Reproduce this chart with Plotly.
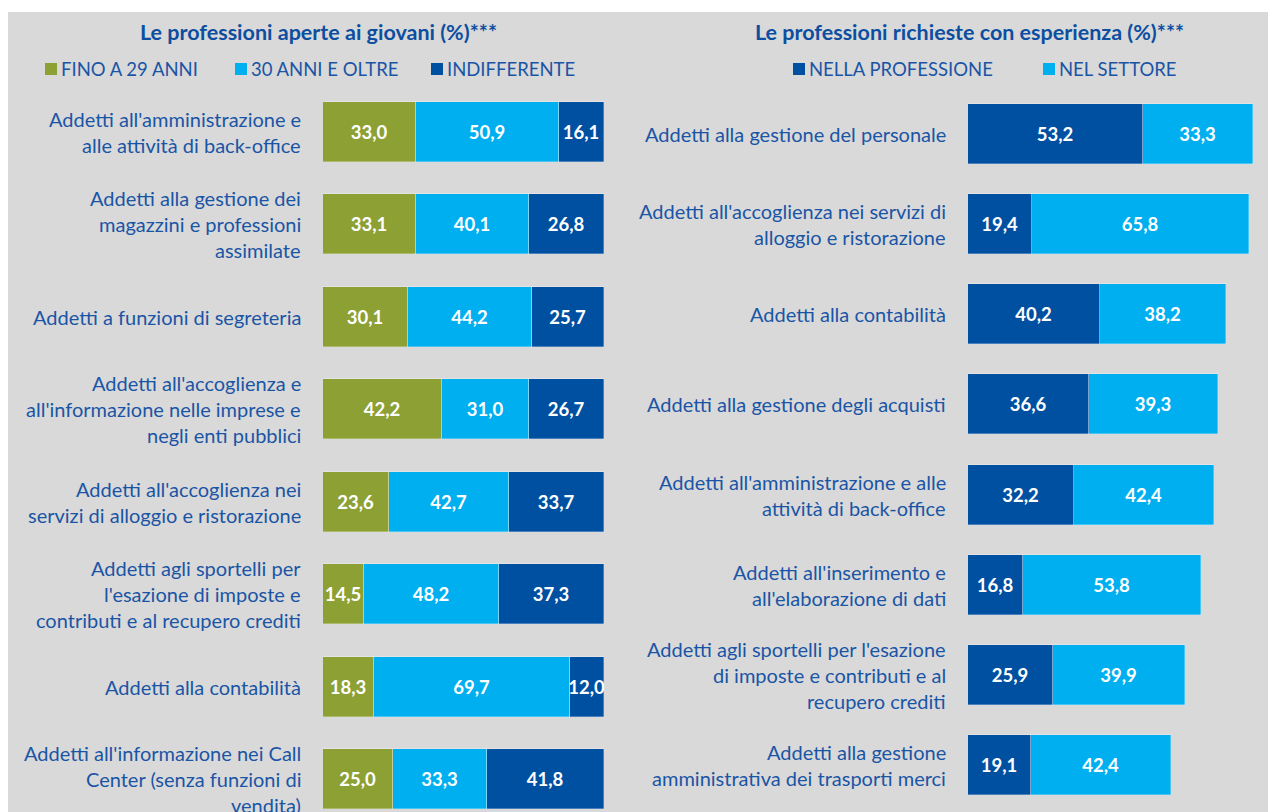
import plotly.graph_objects as go

W, H = 1276, 812

# ---------------- DATA ----------------
left_categories = [
    "Addetti all'amministrazione e<br>alle attività di back-office",
    "Addetti alla gestione dei<br>magazzini e professioni<br>assimilate",
    "Addetti a funzioni di segreteria",
    "Addetti all'accoglienza e<br>all'informazione nelle imprese e<br>negli enti pubblici",
    "Addetti all'accoglienza nei<br>servizi di alloggio e ristorazione",
    "Addetti agli sportelli per<br>l'esazione di imposte e<br>contributi e al recupero crediti",
    "Addetti alla contabilità",
    "Addetti all'informazione nei Call<br>Center (senza funzioni di<br>vendita)",
]
fino_29 = [33.0, 33.1, 30.1, 42.2, 23.6, 14.5, 18.3, 25.0]
oltre_30 = [50.9, 40.1, 44.2, 31.0, 42.7, 48.2, 69.7, 33.3]
indifferente = [16.1, 26.8, 25.7, 26.7, 33.7, 37.3, 12.0, 41.8]
left_series_names = ["FINO A 29 ANNI", "30 ANNI E OLTRE", "INDIFFERENTE"]

right_categories = [
    "Addetti alla gestione del personale",
    "Addetti all'accoglienza nei servizi di<br>alloggio e ristorazione",
    "Addetti alla contabilità",
    "Addetti alla gestione degli acquisti",
    "Addetti all'amministrazione e alle<br>attività di back-office",
    "Addetti all'inserimento e<br>all'elaborazione di dati",
    "Addetti agli sportelli per l'esazione<br>di imposte e contributi e al<br>recupero crediti",
    "Addetti alla gestione<br>amministrativa dei trasporti merci",
]
nella_professione = [53.2, 19.4, 40.2, 36.6, 32.2, 16.8, 25.9, 19.1]
nel_settore = [33.3, 65.8, 38.2, 39.3, 42.4, 53.8, 39.9, 42.4]
right_series_names = ["NELLA PROFESSIONE", "NEL SETTORE"]

left_title = "Le professioni aperte ai giovani (%)***"
right_title = "Le professioni richieste con esperienza (%)***"

# ---------------- STYLE ----------------
OLIVE = "#8DA034"
LIGHT = "#00AFEF"
DARK = "#0050A2"
TXT = "#1A55A5"
TITLE = "#0D4EA0"
BG = "#D9D9D9"
FONT = "Lato"
OFF = 8  # page offset of the figure inside the window

def fmt(v):
    return f"{v:.1f}".replace(".", ",")

def px_x(p):
    return (p - OFF) / W

def px_y(p):
    return 1 - (p - OFF) / H

fig = go.Figure()

# layout geometry (window pixels)
L_x0, L_x1 = 323, 604            # left bars 0..100
R_x0, R_scale = 968, 3.295       # right bars px per unit
L_c0, L_step = 132, 92.43
R_c0, R_step = 134, 90.14
BAR_PX = 60

def bar_trace(vals, name, color, xa, ya):
    n = len(vals)
    return go.Bar(
        y=list(range(n)), x=vals, orientation="h", name=name,
        marker=dict(color=color, line=dict(color="rgba(255,255,255,0.35)", width=0.8)),
        text=[fmt(v) for v in vals], textposition="inside",
        insidetextanchor="middle", textangle=0, constraintext="none",
        textfont=dict(family=FONT, size=18.5, color="white", weight="bold"),
        xaxis=xa, yaxis=ya, showlegend=False, hoverinfo="x+name",
    )

for vals, name, col in zip([fino_29, oltre_30, indifferente], left_series_names, [OLIVE, LIGHT, DARK]):
    t = bar_trace(vals, name, col, "x", "y")
    t.width = BAR_PX / L_step
    fig.add_trace(t)

for vals, name, col in zip([nella_professione, nel_settore], right_series_names, [DARK, LIGHT]):
    t = bar_trace(vals, name, col, "x2", "y2")
    t.width = BAR_PX / R_step
    fig.add_trace(t)

annotations = []
shapes = []

# background
shapes.append(dict(type="rect", xref="paper", yref="paper", x0=0, x1=1, y0=0, y1=px_y(12),
                   fillcolor=BG, line=dict(width=0), layer="below"))

LINE_PX = 26
def add_labels(cats, yref, step, xright):
    for i, c in enumerate(cats):
        lines = c.split("<br>")
        n = len(lines)
        for k, ln in enumerate(lines):
            annotations.append(dict(
                text=ln, xref="paper", yref=yref, x=px_x(xright),
                y=i + (k - (n - 1) / 2) * LINE_PX / step,
                xanchor="right", yanchor="middle", showarrow=False,
                font=dict(family=FONT, size=20, color=TXT)))

add_labels(left_categories, "y", L_step, 303)
add_labels(right_categories, "y2", R_step, 948)

# titles
for txt, cx in [(left_title, 318), (right_title, 969)]:
    annotations.append(dict(text=txt, xref="paper", yref="paper", x=px_x(cx), y=px_y(32),
                            xanchor="center", yanchor="middle", showarrow=False,
                            font=dict(family=FONT, size=21.5, color=TITLE, weight="bold")))

# legends (manual)
def legend_item(name, color, sq_x, txt_x):
    shapes.append(dict(type="rect", xref="paper", yref="paper",
                       x0=px_x(sq_x), x1=px_x(sq_x + 12), y0=px_y(75), y1=px_y(63),
                       fillcolor=color, line=dict(width=0)))
    annotations.append(dict(text=name, xref="paper", yref="paper", x=px_x(txt_x), y=px_y(69),
                            xanchor="left", yanchor="middle", showarrow=False,
                            font=dict(family=FONT, size=18.5, color=TXT)))

for name, col, sx in zip(left_series_names, [OLIVE, LIGHT, DARK], [45, 235, 431]):
    legend_item(name, col, sx, sx + 14)
for name, col, sx in zip(right_series_names, [DARK, LIGHT], [793, 1043]):
    legend_item(name, col, sx, sx + 14)

fig.update_layout(
    width=W, height=H, margin=dict(l=0, r=0, t=0, b=0),
    paper_bgcolor="white", plot_bgcolor="rgba(0,0,0,0)",
    barmode="stack", bargap=0,
    font=dict(family=FONT, color=TXT),
    xaxis=dict(domain=[px_x(L_x0), px_x(L_x1)], range=[0, 100], visible=False, fixedrange=True),
    yaxis=dict(domain=[0, 1], range=[(H + OFF - L_c0) / L_step, (OFF - L_c0) / L_step],
               visible=False, fixedrange=True),
    xaxis2=dict(domain=[px_x(R_x0), 1], range=[0, (W + OFF - R_x0) / R_scale], visible=False, fixedrange=True),
    yaxis2=dict(domain=[0, 1], range=[(H + OFF - R_c0) / R_step, (OFF - R_c0) / R_step], visible=False,
                anchor="x2", fixedrange=True),
    annotations=annotations, shapes=shapes,
    uniformtext=dict(mode=False),
)

fig.write_html("out.html")
